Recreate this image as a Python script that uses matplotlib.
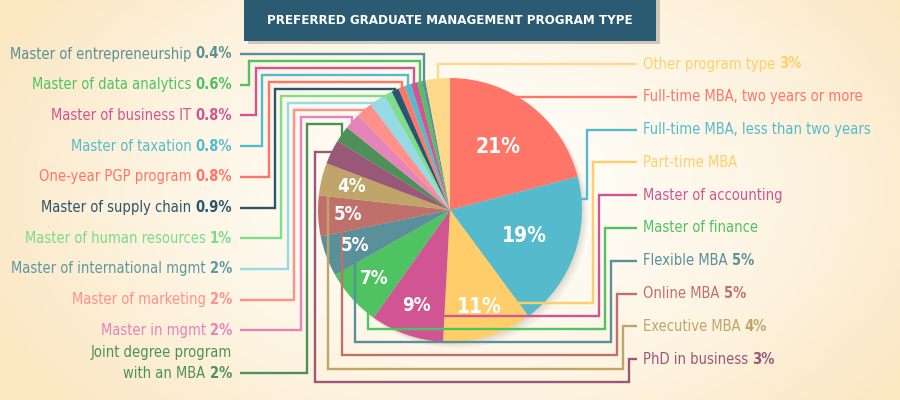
import numpy as np
import matplotlib.pyplot as plt
from matplotlib.patches import Rectangle, Circle

# Preferred graduate management program type (share of respondents, %)
# wedges listed clockwise from 12 o'clock
programs = ["Full-time MBA, two years or more", "Full-time MBA, less than two years",
            "Part-time MBA", "Master of accounting", "Master of finance", "Flexible MBA",
            "Online MBA", "Executive MBA", "PhD in business", "Joint degree program\nwith an MBA",
            "Master in mgmt", "Master of marketing", "Master of international mgmt",
            "Master of human resources", "Master of supply chain", "One-year PGP program",
            "Master of taxation", "Master of business IT", "Master of data analytics",
            "Master of entrepreneurship", "Other program type"]
shares = [21, 19, 11, 9, 7, 5, 5, 4, 3, 2, 2, 2, 2, 1, 0.9, 0.8, 0.8, 0.8, 0.6, 0.4, 3]

wedge_colors = ["#FF7668", "#55BBCC", "#FFCE6A", "#D05592", "#4FC361", "#5A9099",
                "#C0706A", "#C0A56A", "#9A5878", "#4E9158", "#E584B8", "#FF918A",
                "#96DAE6", "#7EDD8B", "#28566E", "#FF7668", "#55BBCC", "#D05592",
                "#4FC361", "#5A9099", "#FFD98A"]
text_colors = ["#FF7668", "#55BBCC", "#FFCE6A", "#D05592", "#4FC361", "#5A9099",
               "#C0706A", "#C0A56A", "#9A5878", "#4E9158", "#E584B8", "#FF918A",
               "#5E98A0", "#7ADB8A", "#28566E", "#FF7668", "#55BBCC", "#D05592",
               "#4FC361", "#5A9099", "#FFD06A"]

# which wedge each side label belongs to, top to bottom
right_order = [20, 0, 1, 2, 3, 4, 5, 6, 7, 8]
left_order = [19, 18, 17, 16, 15, 14, 13, 12, 11, 10, 9]

title = "PREFERRED GRADUATE MANAGEMENT PROGRAM TYPE"

plt.rcParams['font.family'] = ['DejaVu Sans']
plt.rcParams['font.stretch'] = 'condensed'

fig = plt.figure(figsize=(9, 4), dpi=100)
ax = fig.add_axes([0, 0, 1, 1])

# cream radial background
yy, xx = np.mgrid[0:400, 0:900]
d = np.sqrt(((xx - 470) / 520.0) ** 2 + ((yy - 190) / 330.0) ** 2)
t = np.clip(d, 0, 1) ** 1.6
c0 = np.array([255, 254, 250]) / 255.0
c1 = np.array([251, 231, 194]) / 255.0
bg = c0 * (1 - t[..., None]) + c1 * t[..., None]
ax.imshow(bg, extent=(0, 900, 400, 0), zorder=0)

# title banner
ax.add_patch(Rectangle((248, -4), 412, 48, color="#000000", alpha=0.18, lw=0, zorder=1))
ax.add_patch(Rectangle((244, -2), 412, 43, color="#2B5A73", lw=0, zorder=2))
ax.text(450, 21, title, ha="center", va="center", color="white",
        fontsize=9.5, fontweight="bold", zorder=3)

# pie
CX, CY, R = 450, 210, 132
for off, al in [(6, 0.05), (4, 0.06), (2, 0.07)]:
    ax.add_patch(Circle((CX + off, CY + off), R, color="#6b5a40", alpha=al, lw=0, zorder=1))
ax.pie(shares, colors=wedge_colors, startangle=-90, counterclock=True,
       center=(CX, CY), radius=R, wedgeprops=dict(linewidth=0), frame=False)

total = float(sum(shares))
cum = np.concatenate([[0], np.cumsum(shares)]) / total * 360
a_start = 90 - cum[:-1]
a_mid = 90 - (cum[:-1] + cum[1:]) / 2


def pt(a, r):
    return CX + r * np.cos(np.radians(a)), CY - r * np.sin(np.radians(a))


# percentages inside the big wedges
for i, v in enumerate(shares):
    if v >= 4:
        x, y = pt(a_mid[i], R * (0.6 if v >= 15 else 0.77))
        ax.text(x, y, f"{v:g}%", ha="center", va="center", color="white",
                fontsize=15 if v >= 10 else 13.5, fontweight="bold", zorder=5)

LFS = 10.5
lw = 1.7

# left labels and their elbow connectors
for i, idx in enumerate(left_order):
    c = text_colors[idx]
    lines = programs[idx].split("\n")
    ly = 54 + 30.7 * i + (12 if len(lines) > 1 else 0)
    pc = ax.text(232, ly, f"{shares[idx]:g}%", ha="right", va="center", color=c,
                 fontsize=LFS, fontweight="bold", zorder=5)
    ax.annotate(lines[-1], xy=(0, 0.5), xycoords=pc, xytext=(-3, 0),
                textcoords="offset points", ha="right", va="center", color=c,
                fontsize=LFS, zorder=5)
    if len(lines) > 1:
        ax.text(232, ly - 20, lines[0], ha="right", va="center", color=c,
                fontsize=LFS, zorder=5)
    xv = 243 + 6.4 * i
    tx, ty = pt(a_mid[idx], R)
    if a_mid[idx] < 116:
        cy = 54 + 7 * i
        px = [240, xv, xv, tx, tx]
        py = [ly, ly, cy, cy, ty + 6]
    else:
        px = [240, xv, xv, tx + 6]
        py = [ly, ly, ty, ty]
    ax.plot(px, py, color=wedge_colors[idx], lw=lw, zorder=4,
            solid_joinstyle="miter", solid_capstyle="butt")

# right labels and their elbow connectors
for j, idx in enumerate(right_order):
    c = text_colors[idx]
    ly = 64 + 32.8 * j
    nm = ax.text(643, ly, programs[idx], ha="left", va="center", color=c,
                 fontsize=LFS, zorder=5)
    if shares[idx] <= 5:
        ax.annotate(f"{shares[idx]:g}%", xy=(1, 0.5), xycoords=nm, xytext=(3, 0),
                    textcoords="offset points", ha="left", va="center", color=c,
                    fontsize=LFS, fontweight="bold", zorder=5)
    a0 = np.radians(a_start[idx])
    xv = 575 + 6 * j
    if j == 0:
        tx, ty = pt(a_mid[idx], R)
        px, py = [637, tx, tx], [ly, ly, ty + 6]
    elif j == 1:
        xe = CX + np.sqrt(R ** 2 - (ly - CY) ** 2)
        px, py = [637, xe - 6], [ly, ly]
    elif j == 2:
        tx, ty = pt(a_start[idx] - 10, R)
        px, py = [637, xv, xv, tx - 5], [ly, ly, ty, ty]
    else:
        yb = 303 + 13.1 * (j - 3)
        tr = (yb - CY) / -np.sin(a0)
        if 0 < tr <= R:
            px = [637, xv, xv, CX + tr * np.cos(a0) - 3]
            py = [ly, ly, yb, yb]
        else:
            xe = 368 - 13.2 * (j - 5)
            tr = (xe - CX) / np.cos(a0)
            if 0 < tr <= R:
                px = [637, xv, xv, xe, xe]
                py = [ly, ly, yb, yb, CY - tr * np.sin(a0) - 3]
            elif abs(xe - CX) < R:
                px = [637, xv, xv, xe, xe]
                py = [ly, ly, yb, yb, CY + np.sqrt(R ** 2 - (xe - CX) ** 2) - 8]
            else:
                tx, ty = pt(a_mid[idx], R)
                px = [637, xv, xv, xe, xe, tx + 6]
                py = [ly, ly, yb, yb, ty, ty]
    ax.plot(px, py, color=wedge_colors[idx], lw=lw, zorder=4,
            solid_joinstyle="miter", solid_capstyle="butt")

ax.set_xlim(0, 900)
ax.set_ylim(400, 0)
ax.set_aspect("auto")
ax.axis("off")

fig.savefig("out.png", dpi=100)
